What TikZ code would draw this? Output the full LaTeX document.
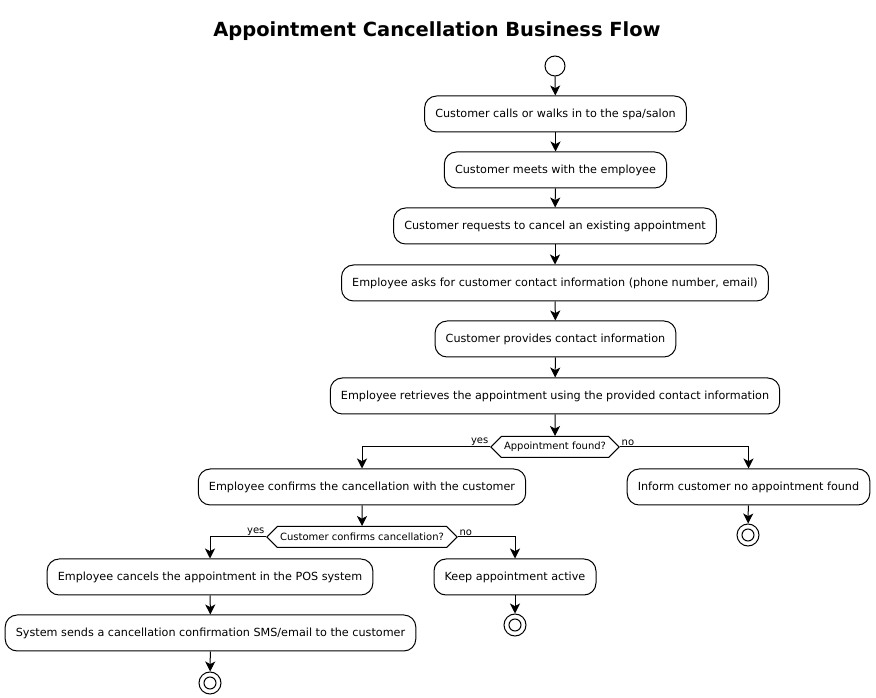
\documentclass[tikz,border=0pt]{standalone}
\usepackage{fontspec}
\setmainfont{DejaVu Sans}
\usetikzlibrary{positioning,shapes.symbols,arrows.meta}

\tikzset{
  act/.style={draw, rounded corners=9pt, minimum height=27pt, inner xsep=8pt,
    fill=white, font=\fontsize{8.4}{10}\selectfont},
  decision/.style={signal, signal to=west and east, draw, fill=white,
    minimum height=15.75pt, inner ysep=1pt, inner xsep=2pt, font=\fontsize{7.5}{9}\selectfont},
  startnode/.style={circle, draw, fill=white, minimum size=15pt, inner sep=0pt},
  endnode/.style={circle, draw, fill=white, minimum size=16.5pt, inner sep=0pt,
    path picture={\draw (path picture bounding box.center) circle[radius=4.5pt];}},
  flow/.style={-{Stealth[length=7.5pt,width=7.5pt,inset=2pt]}},
  branch/.style={font=\fontsize{7.5}{9}\selectfont, inner sep=1pt}
}

\begin{document}
\begin{tikzpicture}[x=0.75pt, y=-0.75pt, line width=0.75pt]
  \useasboundingbox (0,0) rectangle (876,698);
  \node[font=\bfseries\fontsize{14.6}{17}\selectfont] (title) at (437,31) {Appointment Cancellation Business Flow};

  \node[startnode] (start) at (555,66) {};
  \node[act] (calls) at (555.5,114) {Customer calls or walks in to the spa/salon};
  \node[act] (meets) at (555.5,170) {Customer meets with the employee};
  \node[act] (requests) at (555,226) {Customer requests to cancel an existing appointment};
  \node[act] (asks) at (555,283) {Employee asks for customer contact information (phone number, email)};
  \node[act] (provides) at (555.5,339) {Customer provides contact information};
  \node[act] (retrieves) at (555,396) {Employee retrieves the appointment using the provided contact information};
  \node[decision] (found) at (555,447) {Appointment found?};
  \node[act] (confirms) at (362,487) {Employee confirms the cancellation with the customer};
  \node[act] (inform) at (748.5,487) {Inform customer no appointment found};
  \node[endnode] (end1) at (748,535) {};
  \node[decision] (sure) at (362,537) {Customer confirms cancellation?};
  \node[act] (cancels) at (210,577) {Employee cancels the appointment in the POS system};
  \node[act] (keep) at (515,577) {Keep appointment active};
  \node[endnode] (end2) at (515,625) {};
  \node[act] (sends) at (210.5,633) {System sends a cancellation confirmation SMS/email to the customer};
  \node[endnode] (end3) at (210,683) {};

  \draw[flow] (start) -- (calls);
  \draw[flow] (calls) -- (meets);
  \draw[flow] (meets) -- (requests);
  \draw[flow] (requests) -- (asks);
  \draw[flow] (asks) -- (provides);
  \draw[flow] (provides) -- (retrieves);
  \draw[flow] (retrieves) -- (found);
  \draw[flow] (found) -| node[branch, pos=0, above left] {yes} (confirms);
  \draw[flow] (found) -| node[branch, pos=0, above right] {no} (inform);
  \draw[flow] (inform) -- (end1);
  \draw[flow] (confirms) -- (sure);
  \draw[flow] (sure) -| node[branch, pos=0, above left] {yes} (cancels);
  \draw[flow] (sure) -| node[branch, pos=0, above right] {no} (keep);
  \draw[flow] (keep) -- (end2);
  \draw[flow] (cancels) -- (sends);
  \draw[flow] (sends) -- (end3);
\end{tikzpicture}
\end{document}
